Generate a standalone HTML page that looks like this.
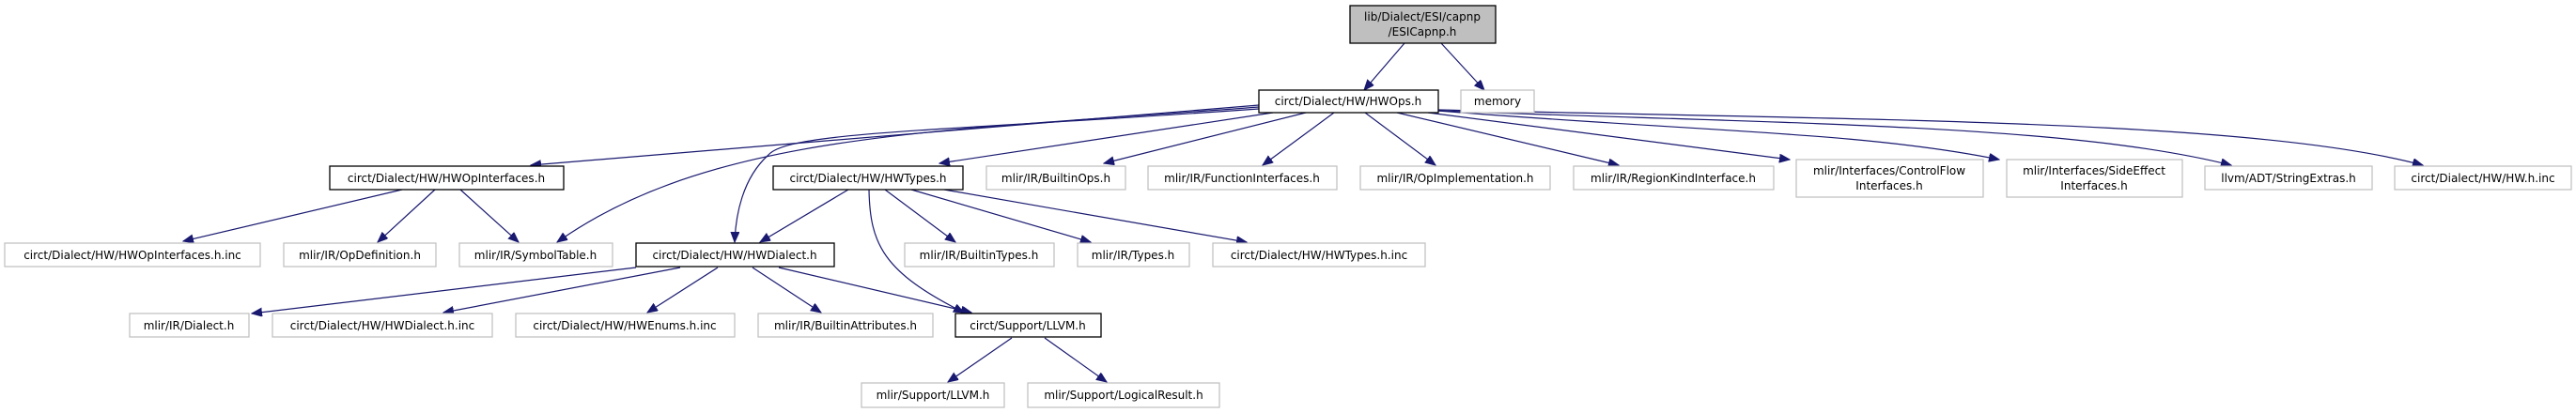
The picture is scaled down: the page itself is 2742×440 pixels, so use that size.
<!DOCTYPE html>
<html><head><meta charset="utf-8"><style>
html,body{margin:0;padding:0;background:#fff;}
svg{display:block;}
text{font-family:"DejaVu Sans","Liberation Sans",sans-serif;font-size:12px;fill:#000;}
.g{fill:#fff;stroke:#bfbfbf;stroke-width:1.2}
.b{fill:#fff;stroke:#000;stroke-width:1.3}
.e{fill:none;stroke:#191970;stroke-width:1.2}
</style></head><body>
<svg width="2742" height="440" viewBox="0 0 2742 440" xmlns="http://www.w3.org/2000/svg">
<defs><marker id="a" markerUnits="userSpaceOnUse" markerWidth="12" markerHeight="10" refX="11" refY="4.5" orient="auto"><path d="M0,0 L11,4.5 L0,9 z" fill="#191970" stroke="#191970"/></marker></defs>
<g text-anchor="middle">
<!-- edges -->
<path class="e" marker-end="url(#a)" d="M1495,46 L1452,96"/>
<path class="e" marker-end="url(#a)" d="M1534,46 L1580,96"/>
<path class="e" marker-end="url(#a)" d="M1340,112 L565,176"/>
<path class="e" marker-end="url(#a)" d="M1340,114 C1000,140 760,140 593,258"/>
<path class="e" marker-end="url(#a)" d="M1340,116 C1000,140 840,140 818,165 C790,190 783,230 782,258"/>
<path class="e" marker-end="url(#a)" d="M1355,120 L1000,174"/>
<path class="e" marker-end="url(#a)" d="M1390,120 L1175,174"/>
<path class="e" marker-end="url(#a)" d="M1420,120 L1344,176"/>
<path class="e" marker-end="url(#a)" d="M1453,120 L1528,176"/>
<path class="e" marker-end="url(#a)" d="M1487,120 L1723,176"/>
<path class="e" marker-end="url(#a)" d="M1520,120 L1905,170"/>
<path class="e" marker-end="url(#a)" d="M1531,118 C1800,140 1980,140 2128,170"/>
<path class="e" marker-end="url(#a)" d="M1531,118 C1900,132 2200,132 2375,176"/>
<path class="e" marker-end="url(#a)" d="M1531,117 C2000,128 2400,128 2579,176"/>
<path class="e" marker-end="url(#a)" d="M428,202 L195,257"/>
<path class="e" marker-end="url(#a)" d="M463,202 L402,258"/>
<path class="e" marker-end="url(#a)" d="M490,202 L552,258"/>
<path class="e" marker-end="url(#a)" d="M903,202 L809,258"/>
<path class="e" marker-end="url(#a)" d="M925,202 C926,260 940,290 1026,333"/>
<path class="e" marker-end="url(#a)" d="M942,202 L1017,258"/>
<path class="e" marker-end="url(#a)" d="M970,202 L1161,258"/>
<path class="e" marker-end="url(#a)" d="M1005,202 L1327,258"/>
<path class="e" marker-end="url(#a)" d="M677,285 L268,334"/>
<path class="e" marker-end="url(#a)" d="M724,285 L472,333"/>
<path class="e" marker-end="url(#a)" d="M764,285 L689,333"/>
<path class="e" marker-end="url(#a)" d="M801,285 L874,333"/>
<path class="e" marker-end="url(#a)" d="M829,285 L1034,333"/>
<path class="e" marker-end="url(#a)" d="M1077,360 L1009,407"/>
<path class="e" marker-end="url(#a)" d="M1112,360 L1178,407"/>
<!-- nodes -->
<rect x="1437" y="6" width="155" height="40" fill="#bfbfbf" stroke="#000" stroke-width="1.3"/>
<text x="1514" y="22">lib/Dialect/ESI/capnp</text><text x="1514" y="38">/ESICapnp.h</text>
<rect class="b" x="1340" y="96" width="191" height="24"/><text x="1435" y="112">circt/Dialect/HW/HWOps.h</text>
<rect class="g" x="1555" y="96" width="78" height="24"/><text x="1594" y="112">memory</text>

<rect class="b" x="351" y="177" width="249" height="25"/><text x="475" y="194">circt/Dialect/HW/HWOpInterfaces.h</text>
<rect class="b" x="823" y="177" width="202" height="25"/><text x="924" y="194">circt/Dialect/HW/HWTypes.h</text>
<rect class="g" x="1050" y="177" width="148" height="25"/><text x="1124" y="194">mlir/IR/BuiltinOps.h</text>
<rect class="g" x="1222" y="177" width="201" height="25"/><text x="1322" y="194">mlir/IR/FunctionInterfaces.h</text>
<rect class="g" x="1448" y="177" width="202" height="25"/><text x="1549" y="194">mlir/IR/OpImplementation.h</text>
<rect class="g" x="1675" y="177" width="213" height="25"/><text x="1781" y="194">mlir/IR/RegionKindInterface.h</text>
<rect class="g" x="1912" y="170" width="199" height="40"/><text x="2011" y="186">mlir/Interfaces/ControlFlow</text><text x="2011" y="202">Interfaces.h</text>
<rect class="g" x="2136" y="170" width="187" height="40"/><text x="2229" y="186">mlir/Interfaces/SideEffect</text><text x="2229" y="202">Interfaces.h</text>
<rect class="g" x="2347" y="177" width="178" height="25"/><text x="2436" y="194">llvm/ADT/StringExtras.h</text>
<rect class="g" x="2549" y="177" width="188" height="25"/><text x="2643" y="194">circt/Dialect/HW/HW.h.inc</text>

<rect class="g" x="5" y="259" width="272" height="25"/><text x="141" y="276">circt/Dialect/HW/HWOpInterfaces.h.inc</text>
<rect class="g" x="302" y="259" width="162" height="25"/><text x="383" y="276">mlir/IR/OpDefinition.h</text>
<rect class="g" x="489" y="259" width="163" height="25"/><text x="570" y="276">mlir/IR/SymbolTable.h</text>
<rect class="b" x="677" y="259" width="211" height="25"/><text x="782" y="276">circt/Dialect/HW/HWDialect.h</text>
<rect class="g" x="963" y="259" width="159" height="25"/><text x="1042" y="276">mlir/IR/BuiltinTypes.h</text>
<rect class="g" x="1147" y="259" width="119" height="25"/><text x="1206" y="276">mlir/IR/Types.h</text>
<rect class="g" x="1291" y="259" width="226" height="25"/><text x="1404" y="276">circt/Dialect/HW/HWTypes.h.inc</text>

<rect class="g" x="138" y="334" width="127" height="25"/><text x="201" y="351">mlir/IR/Dialect.h</text>
<rect class="g" x="290" y="334" width="234" height="25"/><text x="407" y="351">circt/Dialect/HW/HWDialect.h.inc</text>
<rect class="g" x="549" y="334" width="233" height="25"/><text x="665" y="351">circt/Dialect/HW/HWEnums.h.inc</text>
<rect class="g" x="807" y="334" width="186" height="25"/><text x="900" y="351">mlir/IR/BuiltinAttributes.h</text>
<rect class="b" x="1017" y="334" width="155" height="25"/><text x="1094" y="351">circt/Support/LLVM.h</text>

<rect class="g" x="917" y="408" width="152" height="26"/><text x="993" y="425">mlir/Support/LLVM.h</text>
<rect class="g" x="1094" y="408" width="204" height="26"/><text x="1196" y="425">mlir/Support/LogicalResult.h</text>
</g>
</svg>
</body></html>
